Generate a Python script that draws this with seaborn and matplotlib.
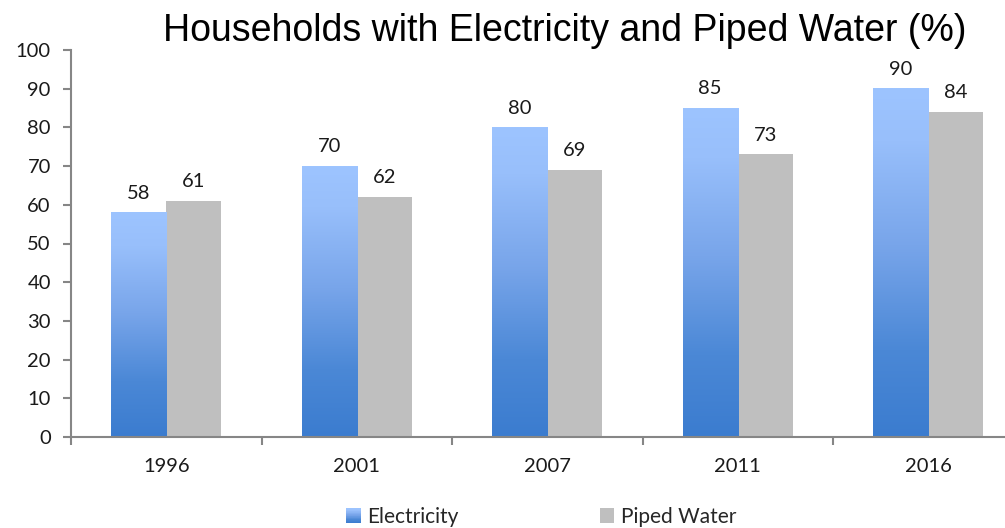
import numpy as np
import pandas as pd
import matplotlib
matplotlib.use("Agg")
import matplotlib.pyplot as plt
import seaborn as sns
from matplotlib import font_manager
from matplotlib.patches import Rectangle
from matplotlib.legend_handler import HandlerBase
from matplotlib.colors import LinearSegmentedColormap

# ---- data ----
years = ["1996", "2001", "2007", "2011", "2016"]
electricity = [58, 70, 80, 85, 90]
piped_water = [61, 62, 69, 73, 84]
series_names = ["Electricity", "Piped Water"]
y_ticks = [0, 10, 20, 30, 40, 50, 60, 70, 80, 90, 100]
title = "Households with Electricity and Piped Water (%)"

# ---- styling ----
AXIS_GREY = "#868686"
WATER_GREY = "#bfbfbf"
TEXT = "#1a1a1a"
LABEL_SIZE = 14.5
blue_ramp = LinearSegmentedColormap.from_list(
    "blue_ramp",
    [(0.0, "#3b7ccf"), (0.25, "#4b88d6"), (0.55, "#78a5ea"),
     (0.85, "#98bffb"), (1.0, "#9dc4ff")],
)

sns.set_theme(style="white")
plt.rcParams["font.family"] = ["Lato", "DejaVu Sans"]

installed = {f.name for f in font_manager.fontManager.ttflist}
if "Liberation Sans Narrow" in installed:
    title_family, title_size = ["Liberation Sans Narrow"], 32
else:
    title_family, title_size = ["Liberation Sans"], 27

df = pd.DataFrame({
    "Year": years * 2,
    "Value": electricity + piped_water,
    "Series": [series_names[0]] * len(years) + [series_names[1]] * len(years),
})

W, H = 1005, 528
fig = plt.figure(figsize=(W / 100, H / 100), dpi=100)
ax = fig.add_axes([71 / W, 1 - 437 / H, (1023.5 - 71) / W, (437 - 50) / H])

sns.barplot(
    data=df, x="Year", y="Value", hue="Series",
    order=years, hue_order=series_names,
    palette=["#7aa6ea", WATER_GREY], saturation=1,
    width=0.578, linewidth=0, ax=ax, legend=False, errorbar=None,
)

# vertical gradient inside each electricity bar
grad = np.linspace(0, 1, 256).reshape(-1, 1)
bars = list(ax.patches)
elec_bars = bars[:len(years)]
water_bars = bars[len(years):]
for p in elec_bars:
    x0, w, h = p.get_x(), p.get_width(), p.get_height()
    ax.imshow(grad, cmap=blue_ramp, origin="lower", aspect="auto",
              extent=[x0, x0 + w, 0, h], zorder=p.get_zorder() + 0.1,
              interpolation="bilinear")
    p.set_facecolor("none")

# value labels
for p, v in zip(elec_bars + water_bars, electricity + piped_water):
    ax.annotate(f"{v}", (p.get_x() + p.get_width() / 2, v),
                xytext=(0, 10), textcoords="offset points",
                ha="center", va="baseline", fontsize=LABEL_SIZE, color=TEXT)

ax.set_xlim(-0.5, len(years) - 0.5)
ax.set_ylim(0, 100)
ax.set_yticks(y_ticks)
ax.set_xticks(range(len(years)))
ax.set_xticklabels(years)
ax.set_xticks(np.arange(-0.5, len(years), 1.0), minor=True)
ax.set_xlabel("")
ax.set_ylabel("")

for side in ("top", "right"):
    ax.spines[side].set_visible(False)
for side in ("left", "bottom"):
    ax.spines[side].set_color(AXIS_GREY)
    ax.spines[side].set_linewidth(1.5)

ax.tick_params(axis="y", which="major", direction="out", length=5.5,
               width=1.5, color=AXIS_GREY, pad=9, labelsize=LABEL_SIZE,
               labelcolor=TEXT, left=True)
ax.tick_params(axis="x", which="major", length=0, pad=15, labelsize=LABEL_SIZE,
               labelcolor=TEXT, bottom=True)
ax.tick_params(axis="x", which="minor", direction="out", length=5.5,
               width=1.5, color=AXIS_GREY, bottom=True)
ax.grid(False)

fig.text(565 / W, 1 - 41 / H, title, ha="center", va="baseline",
         fontsize=title_size, family=title_family, color="#000000")


# legend with a gradient swatch for electricity
class GradientHandler(HandlerBase):
    def create_artists(self, legend, orig_handle, xdescent, ydescent,
                       width, height, fontsize, trans):
        side = min(width, height)
        x0 = -xdescent + (width - side) / 2
        y0 = -ydescent + (height - side) / 2
        n = 24
        out = []
        for i in range(n):
            r = Rectangle((x0, y0 + side * i / n), side, side / n + 0.05,
                          facecolor=blue_ramp((i + 0.5) / n),
                          edgecolor="none", transform=trans)
            out.append(r)
        return out


class SquareHandler(HandlerBase):
    def create_artists(self, legend, orig_handle, xdescent, ydescent,
                       width, height, fontsize, trans):
        side = min(width, height)
        x0 = -xdescent + (width - side) / 2
        y0 = -ydescent + (height - side) / 2
        return [Rectangle((x0, y0), side, side, facecolor=WATER_GREY,
                          edgecolor="none", transform=trans)]


h_elec = Rectangle((0, 0), 1, 1)
h_water = Rectangle((0, 0), 1, 1, facecolor=WATER_GREY)
fig.legend(
    [h_elec, h_water], series_names,
    handler_map={h_elec: GradientHandler(), h_water: SquareHandler()},
    loc="center", bbox_to_anchor=(541 / W, 1 - 517 / H), ncol=2,
    frameon=False, fontsize=15, handlelength=0.7, handleheight=0.7,
    handletextpad=0.3, columnspacing=6.8, borderpad=0,
)

fig.savefig("out.png", dpi=100)
